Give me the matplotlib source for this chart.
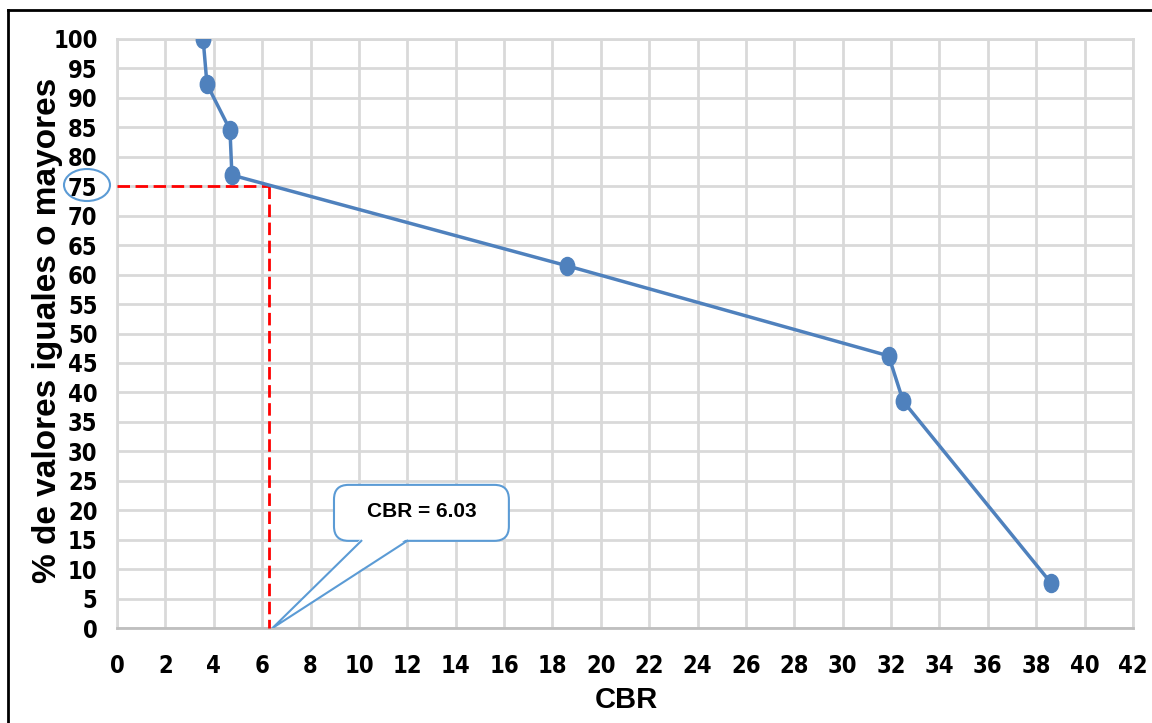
import numpy as np
import matplotlib
matplotlib.use("Agg")
import matplotlib.pyplot as plt
from matplotlib.patches import FancyBboxPatch, Polygon, Ellipse
from matplotlib.lines import Line2D
from matplotlib.path import Path
from matplotlib.transforms import Affine2D

plt.rcParams["font.family"] = ["Liberation Sans", "DejaVu Sans"]
plt.rcParams["font.weight"] = "bold"

# values
cbr = [3.56, 3.72, 4.67, 4.75, 18.6, 31.9, 32.5, 38.6]
pct = [100, 92.3, 84.6, 76.9, 61.5, 46.2, 38.5, 7.7]
design_pct = 75
design_cbr = 6.28          # where the dashed line lands
design_label = "CBR = 6.03"
xticks = list(range(0, 43, 2))
yticks = list(range(0, 101, 5))

W, H = 1152, 723

fig = plt.figure(figsize=(W / 100, H / 100), dpi=100)
ax = fig.add_axes([117 / W, 1 - 628 / H, (1133 - 117) / W, (628 - 39) / H])

ax.set_xlim(0, 42)
ax.set_ylim(0, 100)
ax.set_xticks(xticks)
ax.set_yticks(yticks)
ax.grid(True, color="#d9d9d9", linewidth=2)
ax.set_axisbelow(True)
for spine in ax.spines.values():
    spine.set_color("#d9d9d9")
    spine.set_linewidth(2)
ax.spines["bottom"].set_color("#bfbfbf")
ax.tick_params(length=0)
ax.tick_params(axis="x", pad=19)
ax.tick_params(axis="y", pad=14)
for lab in ax.get_xticklabels() + ax.get_yticklabels():
    lab.set_family("DejaVu Sans")
    lab.set_stretch("condensed")
    lab.set_fontsize(17)
    lab.set_fontweight("bold")

# curve with slightly tall oval markers
oval = Path.unit_circle().transformed(Affine2D().scale(0.8, 1.0))
ax.plot(cbr, pct, color="#4f81bd", linewidth=2.5, marker=oval,
        markersize=13, markerfacecolor="#4f81bd", markeredgecolor="#4f81bd",
        zorder=4)

# red dashed design lines
ax.plot([0, design_cbr], [design_pct, design_pct], color="red", lw=2,
        dashes=(4.5, 2), zorder=3, clip_on=False)
ax.plot([design_cbr, design_cbr], [design_pct, 0], color="red", lw=2,
        dashes=(4.5, 2), zorder=3, clip_on=False)

# callout
box = FancyBboxPatch((8.97, 14.8), 16.2 - 8.97, 24.3 - 14.8,
                     boxstyle="round,pad=0,rounding_size=0.6",
                     mutation_aspect=24.19 / 5.89,
                     facecolor="white", edgecolor="#5b9bd5", lw=1.5, zorder=5)
ax.add_patch(box)
tail = [(10.1, 14.8), (6.43, 0), (12.0, 14.8)]
ax.add_patch(Polygon([(10.1, 15.2), (6.43, 0), (12.0, 15.2)], closed=True,
                     facecolor="white", edgecolor="none", zorder=6))
ax.add_line(Line2D([p[0] for p in tail], [p[1] for p in tail],
                   color="#5b9bd5", lw=1.5, zorder=7))
ax.text(12.6, 19.7, design_label, ha="center", va="center", fontsize=15,
        fontweight="bold", color="black", zorder=8)

ax.set_xlabel("CBR", fontsize=21, fontweight="bold")
ax.xaxis.set_label_coords((626 - 117) / (1133 - 117), (628 - 700) / (628 - 39))
ax.xaxis.label.set_va("center")
ax.set_ylabel("% de valores iguales o mayores", fontsize=24, fontweight="bold")
ax.yaxis.set_label_coords((48 - 117) / (1133 - 117), 0.505)
ax.yaxis.label.set_va("center")

# circle around 75 label
fig.add_artist(Ellipse((87 / W, 1 - 185 / H), 46 / W, 32 / H,
                       transform=fig.transFigure, facecolor="none",
                       edgecolor="#5b9bd5", lw=1.5))

# outer frame (left and top only visible)
fig.add_artist(Line2D([8 / W, 8 / W], [0, 1 - 10 / H], color="black", lw=2,
                      transform=fig.transFigure))
fig.add_artist(Line2D([8 / W, 1], [1 - 10 / H, 1 - 10 / H], color="black",
                      lw=2, transform=fig.transFigure))

fig.savefig("out.png", dpi=100)
